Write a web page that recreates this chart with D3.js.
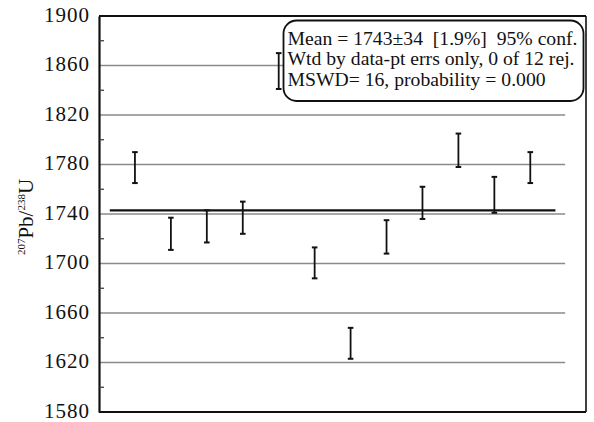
<!DOCTYPE html>
<html><head><meta charset="utf-8">
<script src="https://cdn.jsdelivr.net/npm/d3@7"></script>
<style>body{margin:0;background:#fff} svg text{font-family:"Liberation Serif","Times New Roman",serif;}</style>
</head><body>
<svg id="c" width="594" height="422"></svg>
<script>
// ---- data ----
const analyses = [1,2,3,4,5,6,7,8,9,10,11,12];
const lowerValues = [1765,1711,1717,1724,1841,1688,1623,1708,1736,1778,1741,1765];
const upperValues = [1790,1737,1743,1750,1870,1713,1648,1735,1762,1805,1770,1790];
const yTickValues = [1580,1620,1660,1700,1740,1780,1820,1860,1900];
const gridValues = [1620,1660,1700,1740,1780,1820,1860];
const minorTickValues = [1600,1640,1680,1720,1760,1800,1840,1880];
const meanValue = 1743;
const legendLines = [
  "Mean = 1743\u00B134  [1.9%]  95% conf.",
  "Wtd by data-pt errs only, 0 of 12 rej.",
  "MSWD= 16, probability = 0.000"
];

const svg = d3.select("#c");
const font = "Liberation Serif";
const x = d3.scaleLinear().domain([0, 13.55]).range([99, 586]);
const y = d3.scaleLinear().domain([1580, 1900]).range([412, 16]);

// gridlines
svg.append("g").selectAll("line").data(gridValues).join("line")
  .attr("x1", x(0)).attr("x2", x(12.97))
  .attr("y1", d => y(d)).attr("y2", d => y(d))
  .attr("stroke", "#8a8a8a").attr("stroke-width", 1.3);

// mean line
svg.append("line")
  .attr("x1", x(0.3)).attr("x2", x(12.7))
  .attr("y1", y(meanValue)).attr("y2", y(meanValue))
  .attr("stroke", "#111").attr("stroke-width", 2.2);

// frame
svg.append("line").attr("x1", x(0)).attr("x2", x(13.55)).attr("y1", y(1900)).attr("y2", y(1900)).attr("stroke","#111").attr("stroke-width",2);
svg.append("line").attr("x1", x(0)).attr("x2", x(13.55)).attr("y1", y(1580)).attr("y2", y(1580)).attr("stroke","#111").attr("stroke-width",2);
svg.append("line").attr("x1", x(13.55)).attr("x2", x(13.55)).attr("y1", y(1900)).attr("y2", y(1580)).attr("stroke","#111").attr("stroke-width",1.6);

// left axis
const yAxis = d3.axisLeft(y).tickValues(yTickValues).tickSize(0).tickPadding(9).tickFormat(d3.format("d"));
const ag = svg.append("g").attr("transform", `translate(${x(0)},0)`).call(yAxis)
  .attr("font-family", null).attr("font-size", null);
ag.select(".domain").attr("stroke", "#111").attr("stroke-width", 2.2);
ag.selectAll("text").style("font-family", font).style("font-size", "21px").attr("fill", "#111")
  .attr("dy", "0.25em").style("letter-spacing", "1px");

// minor ticks (inward)
svg.append("g").selectAll("line").data(minorTickValues).join("line")
  .attr("x1", x(0)).attr("x2", x(0) + 5)
  .attr("y1", d => y(d)).attr("y2", d => y(d))
  .attr("stroke", "#333").attr("stroke-width", 1.2);

// error bars
const bars = svg.append("g").selectAll("g").data(analyses).join("g");
bars.append("line")
  .attr("x1", (d) => x(d)).attr("x2", (d) => x(d))
  .attr("y1", (d, i) => y(upperValues[i])).attr("y2", (d, i) => y(lowerValues[i]))
  .attr("stroke", "#111").attr("stroke-width", 1.8);
bars.append("line")
  .attr("x1", d => x(d) - 2.8).attr("x2", d => x(d) + 2.8)
  .attr("y1", (d, i) => y(upperValues[i])).attr("y2", (d, i) => y(upperValues[i]))
  .attr("stroke", "#111").attr("stroke-width", 2);
bars.append("line")
  .attr("x1", d => x(d) - 2.8).attr("x2", d => x(d) + 2.8)
  .attr("y1", (d, i) => y(lowerValues[i])).attr("y2", (d, i) => y(lowerValues[i]))
  .attr("stroke", "#111").attr("stroke-width", 2);

// legend box
svg.append("rect")
  .attr("x", 283.5).attr("y", 20.5).attr("width", 300).attr("height", 80.5)
  .attr("rx", 13).attr("ry", 13)
  .attr("fill", "#fff").attr("stroke", "#111").attr("stroke-width", 1.8);
const lt = svg.append("g").selectAll("text").data(legendLines).join("text")
  .attr("x", 287.5).attr("y", (d, i) => 44.5 + i * 20.5)
  .style("font-family", font).style("font-size", "18.5px").attr("fill", "#111")
  .attr("xml:space", "preserve").style("white-space", "pre")
  .text(d => d);
// stretch horizontally to match the wide reference typesetting
const firstLen = lt.node().getComputedTextLength();
const k = 290 / firstLen;
lt.each(function() {
  const len = this.getComputedTextLength();
  d3.select(this).attr("textLength", len * k).attr("lengthAdjust", "spacingAndGlyphs");
});

// y axis title
const t = svg.append("text")
  .attr("transform", "translate(33,217) rotate(-90)")
  .attr("text-anchor", "middle")
  .style("font-family", font).attr("fill", "#111");
t.append("tspan").style("font-size", "11px").attr("dy", -8).text("207");
t.append("tspan").style("font-size", "21px").attr("dy", 8).text("Pb/");
t.append("tspan").style("font-size", "11px").attr("dy", -8).text("238");
t.append("tspan").style("font-size", "21px").attr("dy", 8).text("U");
</script>
</body></html>
